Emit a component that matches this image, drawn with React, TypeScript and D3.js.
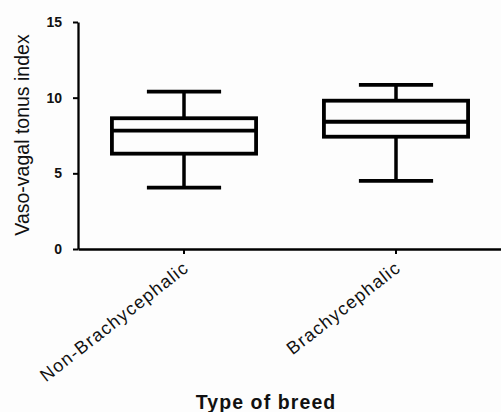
import React, { useEffect, useRef } from "react";
import * as d3 from "d3";

const categories = ["Non-Brachycephalic", "Brachycephalic"];
const mins = [4.05, 4.5];
const q1s = [6.3, 7.42];
const medians = [7.82, 8.41];
const q3s = [8.64, 9.8];
const maxs = [10.4, 10.84];
const yTicks = [0, 5, 10, 15];

const W = 501;
const H = 412;
const FONT = "'Liberation Sans', Arial, sans-serif";

export default function App() {
  const svgRef = useRef<SVGSVGElement>(null);

  useEffect(() => {
    const svg = d3.select(svgRef.current);
    svg.selectAll("*").remove();

    const y = d3.scaleLinear().domain([0, 15]).range([249, 22]);
    const x = d3.scaleBand().domain(categories).range([78, 502]);
    const boxW = x.bandwidth() * 0.68;
    const capW = x.bandwidth() * 0.35;

    svg.append("rect").attr("width", W).attr("height", H).attr("fill", "#fdfdfd");

    // y axis
    const yAxis = svg
      .append("g")
      .attr("transform", "translate(78,0)")
      .call(d3.axisLeft(y).tickValues(yTicks).tickSize(5).tickSizeOuter(0).tickPadding(11));
    yAxis.select(".domain").attr("stroke", "#000").attr("stroke-width", 2.3);
    yAxis.selectAll(".tick line").attr("stroke", "#000").attr("stroke-width", 2);
    yAxis
      .selectAll(".tick text")
      .attr("font-family", FONT)
      .attr("font-size", 14)
      .attr("font-weight", "bold")
      .attr("fill", "#111");

    // x axis
    const xAxis = svg
      .append("g")
      .attr("transform", "translate(0,249)")
      .call(d3.axisBottom(x).tickSize(5).tickSizeOuter(0));
    xAxis.select(".domain").attr("stroke", "#000").attr("stroke-width", 2.3);
    xAxis.selectAll(".tick line").attr("stroke", "#000").attr("stroke-width", 2);
    xAxis
      .selectAll(".tick text")
      .attr("font-family", FONT)
      .attr("font-size", 18)
      .attr("letter-spacing", 1.2)
      .attr("fill", "#111")
      .attr("text-anchor", "end")
      .attr("dy", null)
      .attr("y", null)
      .attr("transform", "translate(6,21) rotate(-38)");

    // boxes
    const g = svg.append("g").attr("stroke", "#000").attr("fill", "none").attr("stroke-width", 3.8);
    categories.forEach((c, i) => {
      const cx = (x(c) as number) + x.bandwidth() / 2;
      g.append("line").attr("x1", cx).attr("x2", cx).attr("y1", y(maxs[i])).attr("y2", y(q3s[i])).attr("stroke-width", 3.5);
      g.append("line").attr("x1", cx).attr("x2", cx).attr("y1", y(q1s[i])).attr("y2", y(mins[i])).attr("stroke-width", 3.5);
      g.append("line").attr("x1", cx - capW / 2).attr("x2", cx + capW / 2).attr("y1", y(maxs[i])).attr("y2", y(maxs[i]));
      g.append("line").attr("x1", cx - capW / 2).attr("x2", cx + capW / 2).attr("y1", y(mins[i])).attr("y2", y(mins[i]));
      g.append("rect")
        .attr("x", cx - boxW / 2)
        .attr("width", boxW)
        .attr("y", y(q3s[i]))
        .attr("height", y(q1s[i]) - y(q3s[i]));
      g.append("line").attr("x1", cx - boxW / 2).attr("x2", cx + boxW / 2).attr("y1", y(medians[i])).attr("y2", y(medians[i]));
    });

    // axis titles
    svg
      .append("text")
      .attr("transform", `translate(29,${(32 + 238) / 2}) rotate(-90)`)
      .attr("text-anchor", "middle")
      .attr("font-family", FONT)
      .attr("font-size", 19.5)
      .attr("fill", "#111")
      .text("Vaso-vagal tonus index");

    svg
      .append("text")
      .attr("x", 266)
      .attr("y", 409)
      .attr("text-anchor", "middle")
      .attr("font-family", FONT)
      .attr("font-size", 19.5)
      .attr("font-weight", "bold")
      .attr("letter-spacing", 1.1)
      .attr("fill", "#111")
      .text("Type of breed");
  }, []);

  return (
    <div style={{ position: "absolute", left: 0, top: 0 }}>
      <svg ref={svgRef} width={W} height={H} style={{ display: "block" }} />
    </div>
  );
}
